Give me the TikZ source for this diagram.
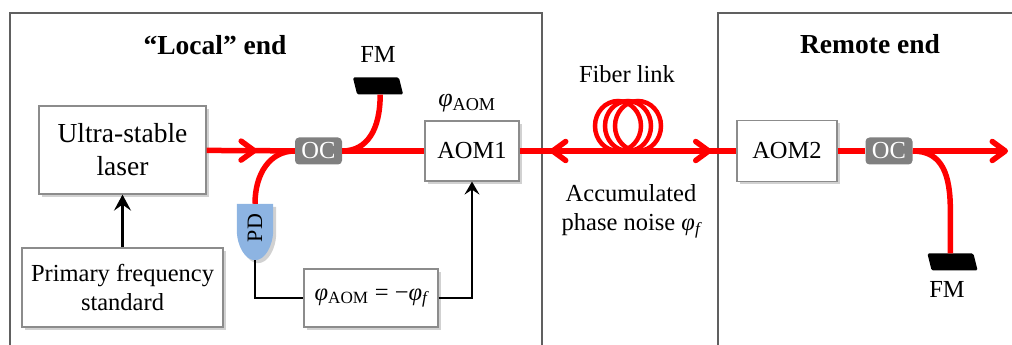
\documentclass[tikz,border=0pt]{standalone}
\usepackage{fontspec}
\setmainfont{Liberation Serif}
\usepackage{tikz}
\usetikzlibrary{
  calc
  , arrows.meta
  % for box shadows
  , shadows
  % for arrow tips in the middle of a fiber
  , decorations.markings
}

\definecolor{fiberred}{RGB}{255,0,0}
\definecolor{ocgray}{RGB}{128,128,128}
\definecolor{pdblue}{RGB}{141,180,226}
\definecolor{framegray}{RGB}{96,96,96}
\definecolor{boxgray}{RGB}{140,140,140}

\newcommand{\phiaom}{{\itshape φ}\textsubscript{AOM}}
\newcommand{\phif}{{\itshape φ}\textsubscript{\itshape f}}

\tikzset{
  barb/.tip={Straight Barb[length=13pt, width=19pt, round]},
  unit/.style={draw=boxgray, line width=1.2pt, fill=white,
    align=center, inner sep=0pt,
    drop shadow={shadow xshift=3pt, shadow yshift=-3pt, opacity=0.3, fill=black!60}},
  coupler/.style={fill=ocgray, rounded corners=4pt, text=white,
    minimum width=47pt, minimum height=27pt, inner sep=0pt},
  mirror/.style={fill=black, minimum width=46pt, minimum height=17pt,
    inner sep=0pt, rounded corners=1.5pt, xslant=-0.25, transform shape},
  fiber/.style={draw=fiberred, line width=5.5pt},
  signal/.style={draw=black, line width=2pt},
  frame/.style={draw=framegray, line width=1.5pt},
  title/.style={font=\fontsize{27.5}{33}\selectfont\bfseries},
  fwd/.style={postaction={decorate, decoration={markings,
    mark=at position #1 with {\arrow{barb}}}}},
  bwd/.style={postaction={decorate, decoration={markings,
    mark=at position #1 with {\arrowreversed{barb}}}}},
}

\begin{document}
\begin{tikzpicture}[x=1pt, y=1pt, font=\fontsize{24.5}{29}\selectfont]
      \useasboundingbox (0,0) rectangle (1012,345);

      % the two ends
      \draw[frame] (10,0) -- (10,332) -- (542,332) -- (542,0);
      \draw[frame] (718,0) -- (718,332) -- (1012,332);
      \node[title, anchor=base] (localtitle) at (215,290) {“Local” end};
      \node[title, anchor=base] (remotetitle) at (870,291) {Remote end};

      % local end
      \node [unit,
        minimum width=167pt,
        minimum height=88pt,
        font=\fontsize{27.5}{33}\selectfont,
      ] (laser) at (122.5,195) {Ultra-stable\\laser};
      \node [unit,
        minimum width=201pt,
        minimum height=79pt,
      ] (pfs) at (122.5,57.5) {Primary frequency\\standard};
      \node[coupler] (oc1) at (318.5,194) {OC};
      \node[mirror] (fm1) at (378,259) {};
      \node[anchor=base] (fm1lbl) at (378,282) {FM};
      \node [unit,
        minimum width=94pt,
        minimum height=60pt,
      ] (aom1) at (472,194) {AOM1};
      \node[anchor=base, font=\fontsize{26}{30}\selectfont] (phiaomlbl) at (467,238) {\phiaom};
      \node [minimum width=36pt,
        minimum height=56pt,
        inner sep=0pt,
      ] (pd) at (255,113) {};
      \fill[pdblue, drop shadow={shadow xshift=3pt, shadow yshift=-3pt, opacity=0.3, fill=black!60}]
        (pd.north west) -- (pd.north east) -- ($(pd.north east)+(0,-26)$)
        .. controls +(0,-16) and +(10,0) .. (pd.south)
        .. controls +(-10,0) and +(0,-16) .. ($(pd.north west)+(0,-26)$) -- cycle;
      \node[rotate=90, font=\fontsize{22}{26}\selectfont] (pdlbl) at ([yshift=4pt]pd.center) {PD};
      \node [unit,
        minimum width=134pt,
        minimum height=58pt,
      ] (eq) at (371,47) {\phiaom{} = −\phif};

      \draw[line width=3pt, -{Stealth[length=16pt, width=17pt, inset=6pt]}] (pfs) -- (laser);
      \draw[signal] (pd.south) |- (eq.west);
      \draw[signal, -{Stealth[length=13pt, width=15pt, inset=5pt]}] (eq.east) -| (aom1.south);

      \draw[fiber, fwd=0.57] (laser) -- (oc1);
      \draw[fiber] (oc1) -- (aom1);
      \draw[fiber] (oc1.east) .. controls +(25,0) and +(0,-35) .. (fm1.south);
      \draw[fiber] (pd.north) .. controls +(0,30) and +(-25,0) .. (oc1.west);

      % remote end
      \node [unit,
        minimum width=100pt,
        minimum height=61pt,
      ] (aom2) at (787,194) {AOM2};
      \node[coupler] (oc2) at (889,194) {OC};
      \node[mirror] (fm2) at (952.5,83) {};
      \node[anchor=base] (fm2lbl) at (947,47) {FM};
      \coordinate (out) at (1008,194);

      \draw[fiber] (aom2) -- (oc2);
      \draw[fiber, -barb] (oc2) -- (out);
      \draw[fiber] (oc2.east) .. controls +(30,0) and +(0,35) .. ($(fm2.north)+(0,43)$) -- (fm2.north);

      % fiber link
      \draw[fiber, fwd=0.885, bwd=0.14] (aom1) -- (aom2);
      \node[anchor=base] (fiberlbl) at (627,262) {Fiber link};
      \coordinate (coil) at (628,219);
      \foreach \dx in {-10,0,10}
        \draw[fiber, line width=4.5pt] ($(coil)+(\dx,0)$) ellipse [x radius=23pt, y radius=25pt];
      \node[align=center] (noise) at (631,134) {Accumulated\\phase noise \phif};
\end{tikzpicture}
\end{document}
